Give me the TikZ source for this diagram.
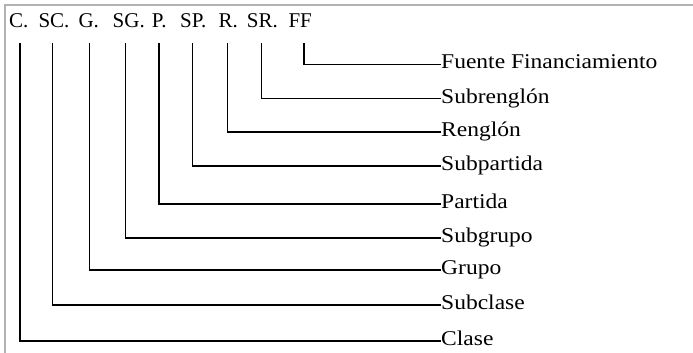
\documentclass[tikz,border=0pt]{standalone}
\usepackage{fontspec}
\setmainfont{Liberation Serif}[FakeStretch=1.12]
\newfontfamily\hdrfont{Liberation Serif}
\begin{document}
\begin{tikzpicture}[x=1pt,y=-1pt,
  lbl/.style={anchor=west, inner sep=0pt, text height=14pt, text depth=5pt, font=\fontsize{21}{24}\selectfont},
  abbr/.style={anchor=base west, inner sep=0pt, font=\hdrfont\fontsize{21}{24}\selectfont},
  conn/.style={line width=1.4pt, black},
  frame/.style={line width=1.5pt, black!30}]
\useasboundingbox (0,0) rectangle (693,353);
\draw[frame] (5,353) -- (5,5) -- (693,5);
% header
\node[abbr] (hC)  at (9,28)     {C.};
\node[abbr] (hSC) at (38.3,28)  {SC.};
\node[abbr] (hG)  at (78.3,28)  {G.};
\node[abbr] (hSG) at (112.5,28) {SG.};
\node[abbr] (hP)  at (151.7,28) {P.};
\node[abbr] (hSP) at (180,28)   {SP.};
\node[abbr] (hR)  at (218.3,28) {R.};
\node[abbr] (hSR) at (246.7,28) {SR.};
\node[abbr] (hFF) at (288.3,28) {FF};
% line tops
\coordinate (tC)  at (20,43);
\coordinate (tSC) at (52.7,43);
\coordinate (tG)  at (89.3,43);
\coordinate (tSG) at (125.7,43);
\coordinate (tP)  at (159,43);
\coordinate (tSP) at (192.7,43);
\coordinate (tR)  at (227.7,43);
\coordinate (tSR) at (261.7,43);
\coordinate (tFF) at (304,43);
% labels
\node[lbl] (lFF) at (441,64.5) {Fuente Financiamiento};
\node[lbl] (lSR) at (441,98.5) {Subrenglón};
\node[lbl] (lR)  at (441,132)  {Renglón};
\node[lbl] (lSP) at (441,166)  {Subpartida};
\node[lbl] (lP)  at (441,204)  {Partida};
\node[lbl] (lSG) at (441,238)  {Subgrupo};
\node[lbl] (lG)  at (441,270)  {Grupo};
\node[lbl] (lSC) at (441,305)  {Subclase};
\node[lbl] (lC)  at (441,341)  {Clase};
% connectors
\draw[conn] (tFF) |- (lFF.west);
\draw[conn] (tSR) |- (lSR.west);
\draw[conn] (tR)  |- (lR.west);
\draw[conn] (tSP) |- (lSP.west);
\draw[conn] (tP)  |- (lP.west);
\draw[conn] (tSG) |- (lSG.west);
\draw[conn] (tG)  |- (lG.west);
\draw[conn] (tSC) |- (lSC.west);
\draw[conn] (tC)  |- (lC.west);
\end{tikzpicture}
\end{document}
